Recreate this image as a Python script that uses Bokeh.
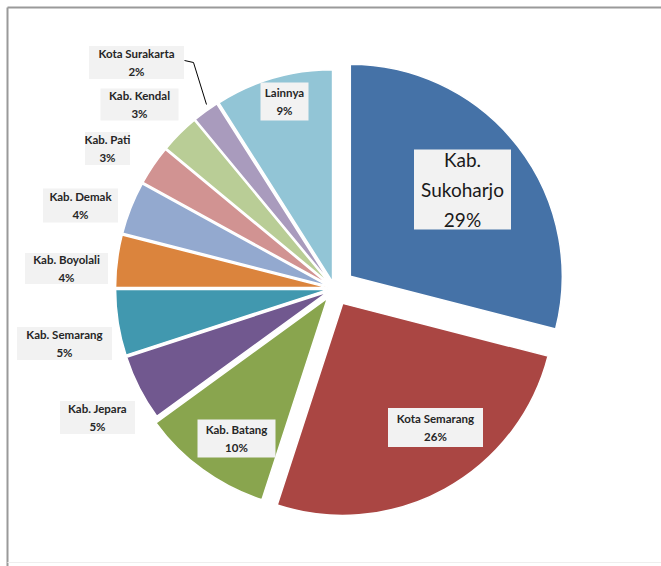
import math
from bokeh.plotting import figure
from bokeh.models import Range1d, ColumnDataSource
from bokeh.core.properties import value
from bokeh.embed import file_html
from bokeh.resources import INLINE

# ---- data ----
names = ["Kab. Sukoharjo", "Kota Semarang", "Kab. Batang", "Kab. Jepara",
         "Kab. Semarang", "Kab. Boyolali", "Kab. Demak", "Kab. Pati",
         "Kab. Kendal", "Kota Surakarta", "Lainnya"]
shares = [29, 26, 10, 5, 5, 4, 4, 3, 3, 2, 9]

# ---- style ----
colors = ["#4572A7", "#AA4643", "#89A54E", "#71588F", "#4198AF", "#DB843D",
          "#93A9CF", "#D19392", "#B9CD96", "#A99BBD", "#92C5D6"]
explode = [20, 17, 12, 7, 7, 7, 7, 7, 7, 7, 7]
# label centres / box sizes in screen pixels (y downwards)
lab_sx = [462, 435, 236, 97, 64, 66, 80, 107, 139, 136, 284]
lab_sy = [189, 427, 438, 417, 343, 268, 205, 148, 104, 62, 101]
box_w = [97, 95, 78, 75, 95, 83, 75, 45, 78, 95, 48]
box_h = [80, 39, 38, 33, 33, 31, 34, 33, 32, 33, 38]

W, H = 661, 566
CX, CY = 334, 288
R = 212

p = figure(width=W, height=H, x_range=Range1d(0, W), y_range=Range1d(0, H),
           output_backend="svg", toolbar_location=None, min_border=0,
           x_axis_location=None, y_axis_location=None)
p.grid.visible = False
p.outline_line_color = None
p.background_fill_color = "white"

total = float(sum(shares))
xs, ys, starts, ends = [], [], [], []
cum = 0.0
for v, e in zip(shares, explode):
    t1 = cum / total * 2 * math.pi
    t2 = (cum + v) / total * 2 * math.pi
    mid = (t1 + t2) / 2
    xs.append(CX + e * math.sin(mid))
    ys.append((H - CY) + e * math.cos(mid))
    starts.append(math.pi / 2 - t2)
    ends.append(math.pi / 2 - t1)
    cum += v

src = ColumnDataSource(dict(x=xs, y=ys, start=starts, end=ends, color=colors, name=names))
p.wedge(x="x", y="y", radius=R, start_angle="start", end_angle="end",
        fill_color="color", line_color="white", line_width=1.5, source=src)

# frame
p.line([7, 7], [H - 7, 0], line_color="#9a9a9a", line_width=2)
p.line([7, W], [H - 7, H - 7], line_color="#9a9a9a", line_width=2)
p.line([7, W], [H - 562, H - 562], line_color="#eeeeee", line_width=1)

# leader line for Kota Surakarta
p.line([184, 193, 206], [H - 60, H - 62, H - 104], line_color="black", line_width=1)

texts = []
for n, v in zip(names, shares):
    if n == "Kab. Sukoharjo":
        texts.append("Kab.\nSukoharjo\n%d%%" % v)
    else:
        texts.append("%s\n%d%%" % (n, v))

lsrc = ColumnDataSource(dict(x=lab_sx, y=[H - y for y in lab_sy], w=box_w, h=box_h,
                             text=texts))
p.rect(x="x", y="y", width="w", height="h", width_units="screen", height_units="screen",
       fill_color="#f2f2f2", line_color=None, source=lsrc)

big = ColumnDataSource(dict(x=lsrc.data["x"][:1], y=lsrc.data["y"][:1], text=texts[:1]))
small = ColumnDataSource(dict(x=lsrc.data["x"][1:], y=lsrc.data["y"][1:], text=texts[1:]))
p.text(x="x", y="y", text="text", text_font=value("Lato"), text_font_size="19px",
       text_font_style="normal", text_align="center", text_baseline="middle",
       text_line_height=1.3, text_color="#1a1a1a", source=big)
p.text(x="x", y="y", text="text", text_font=value("Lato"), text_font_size="11.5px",
       text_font_style="bold", text_align="center", text_baseline="middle",
       text_line_height=1.35, text_color="#262626", source=small)

open("out.html", "w").write(file_html(p, INLINE))
